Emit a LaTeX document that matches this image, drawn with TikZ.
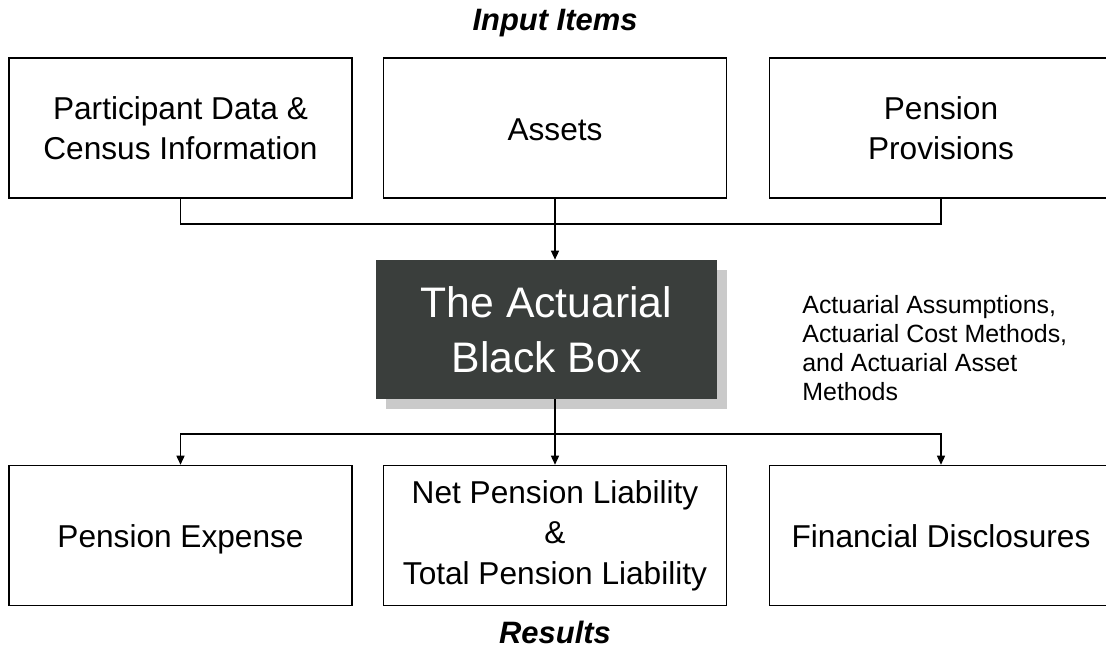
\documentclass[tikz,border=0pt]{standalone}
\usepackage{fontspec}
\setmainfont{Liberation Sans}
\usepackage{xcolor}
\usetikzlibrary{calc,arrows.meta,positioning,shadows}
\definecolor{boxdark}{RGB}{58,62,60}

\begin{document}
\begin{tikzpicture}[
  x=0.02cm, y=-0.02cm,
  box/.style={draw, line width=0.9pt, minimum width=6.86cm, minimum height=2.8cm, align=center, font=\fontsize{18}{23}\selectfont},
  onebox/.style={box, text height=1.6em, text depth=0.2em},
  bbox/.style={fill=boxdark, text=white, minimum width=6.82cm, minimum height=2.78cm, align=center, font=\fontsize{24.3}{31}\selectfont,
    drop shadow={fill=gray!70, opacity=0.6, shadow xshift=0.2cm, shadow yshift=-0.2cm}},
  lbl/.style={font=\fontsize{17.6}{20}\selectfont\bfseries\itshape},
  arr/.style={-{Triangle[length=1.8mm,width=1.6mm]}, line width=0.8pt},
  conn/.style={line width=0.8pt}
]
\useasboundingbox (0,0) rectangle (1106,647);
\node[lbl] (inp) at (555,23) {Input Items};
\node[box] (pd) at (180.5,128) {Participant Data \&\\Census Information};
\node[onebox] (as) at (555,128) {Assets};
\node[box] (pp) at (941,128) {Pension\\Provisions};
\node[bbox] (bb) at (546.5,329.5) {The Actuarial\\Black Box};
\node[font=\fontsize{14.2}{16.6}\selectfont, align=left, anchor=north west, inner sep=0] (meth) at (802,295) {Actuarial Assumptions,\\Actuarial Cost Methods,\\and Actuarial Asset\\Methods};
\node[onebox] (pe) at (180.5,535.5) {Pension Expense};
\node[box] (np) at (555,535.5) {Net Pension Liability\\\&\\Total Pension Liability};
\node[onebox] (fd) at (941,535.5) {Financial Disclosures};
\node[lbl] (res) at (555,632) {Results};
% inputs into the black box
\coordinate (jin) at (555,224);
\draw[conn] (pd.south) |- (jin) -| (pp.south);
\draw[conn] (as.south) -- (jin);
\draw[arr] (jin) -- (jin |- bb.north);
% results out of the black box
\coordinate (jout) at (555,434);
\draw[conn] (jin |- bb.south) -- (jout);
\draw[arr] (jout) -| (pe.north);
\draw[arr] (jout) -| (fd.north);
\draw[arr] (jout) -- (np.north);
\end{tikzpicture}
\end{document}
